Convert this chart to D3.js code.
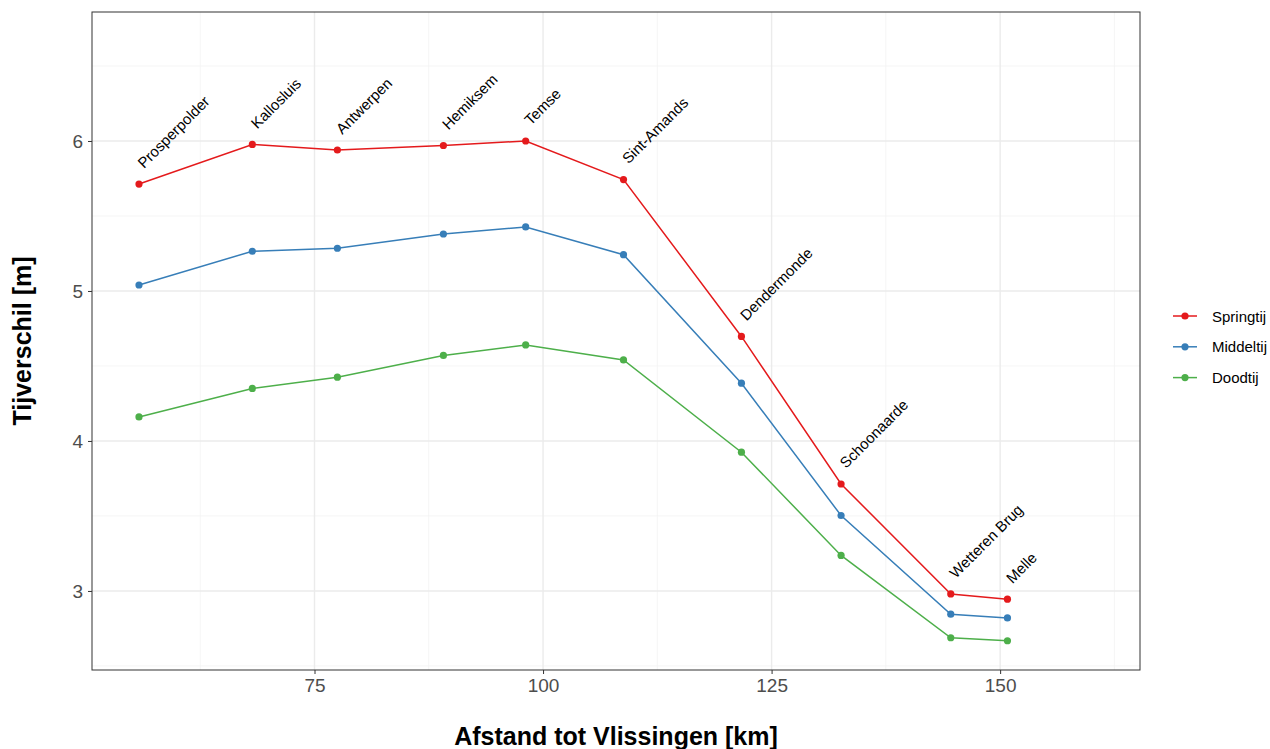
<!DOCTYPE html>
<html>
<head>
<meta charset="utf-8">
<script src="https://cdn.jsdelivr.net/npm/d3@7"></script>
<style>
  body { margin: 0; background: #fff; }
  svg { font-family: "Liberation Sans", Arial, sans-serif; }
</style>
</head>
<body>
<svg id="chart" width="1270" height="749"></svg>
<script>
// data
const stations = ["Prosperpolder", "Kallosluis", "Antwerpen", "Hemiksem", "Temse",
  "Sint-Amands", "Dendermonde", "Schoonaarde", "Wetteren Brug", "Melle"];
const distance = [55.8, 68.2, 77.5, 89.1, 98.1, 108.8, 121.7, 132.6, 144.6, 150.8];
const springtij = [5.713, 5.977, 5.94, 5.97, 6.0, 5.743, 4.697, 3.713, 2.98, 2.945];
const middeltij = [5.04, 5.265, 5.285, 5.38, 5.427, 5.242, 4.385, 3.503, 2.845, 2.82];
const doodtij = [4.16, 4.35, 4.425, 4.57, 4.64, 4.54, 3.925, 3.237, 2.688, 2.668];
const seriesNames = ["Springtij", "Middeltij", "Doodtij"];
const seriesColors = ["#e41a1c", "#377eb8", "#4daf4a"];
const xTicks = [75, 100, 125, 150];
const yTicks = [3, 4, 5, 6];

const series = [springtij, middeltij, doodtij].map((vals, i) => ({
  name: seriesNames[i],
  color: seriesColors[i],
  values: vals.map((v, j) => ({ x: distance[j], y: v }))
}));

const svg = d3.select("#chart");
const panelLeft = 92, panelRight = 1140, panelTop = 12, panelBottom = 670;

const x = d3.scaleLinear().domain([50.66, 165.3]).range([panelLeft, panelRight]);
const y = d3.scaleLinear().domain([2.473, 6.86]).range([panelBottom, panelTop]);

// gridlines
const grid = svg.append("g");
const xMinor = d3.range(62.5, 165, 25);
const yMinor = d3.range(2.5, 6.9, 1);
grid.selectAll(".xm").data(xMinor).join("line")
  .attr("x1", d => x(d)).attr("x2", d => x(d)).attr("y1", panelTop).attr("y2", panelBottom)
  .attr("stroke", "#f2f2f2").attr("stroke-width", 0.8);
grid.selectAll(".ym").data(yMinor).join("line")
  .attr("y1", d => y(d)).attr("y2", d => y(d)).attr("x1", panelLeft).attr("x2", panelRight)
  .attr("stroke", "#f2f2f2").attr("stroke-width", 0.8);
grid.selectAll(".xM").data(xTicks).join("line")
  .attr("x1", d => x(d)).attr("x2", d => x(d)).attr("y1", panelTop).attr("y2", panelBottom)
  .attr("stroke", "#ebebeb").attr("stroke-width", 1.4);
grid.selectAll(".yM").data(yTicks).join("line")
  .attr("y1", d => y(d)).attr("y2", d => y(d)).attr("x1", panelLeft).attr("x2", panelRight)
  .attr("stroke", "#ebebeb").attr("stroke-width", 1.4);

// lines and points
const line = d3.line().x(d => x(d.x)).y(d => y(d.y));
series.forEach(s => {
  svg.append("path").datum(s.values)
    .attr("d", line).attr("fill", "none")
    .attr("stroke", s.color).attr("stroke-width", 1.5);
  svg.append("g").selectAll("circle").data(s.values).join("circle")
    .attr("cx", d => x(d.x)).attr("cy", d => y(d.y)).attr("r", 3.6)
    .attr("fill", s.color);
});

// station labels
svg.append("g").selectAll("text").data(stations).join("text")
  .attr("transform", (d, i) => `translate(${x(distance[i]) + 5},${y(springtij[i]) - 15}) rotate(-45)`)
  .attr("font-size", 15).attr("fill", "#000")
  .text(d => d);

// panel border
svg.append("rect").attr("x", panelLeft).attr("y", panelTop)
  .attr("width", panelRight - panelLeft).attr("height", panelBottom - panelTop)
  .attr("fill", "none").attr("stroke", "#333").attr("stroke-width", 1);

// axes
const xAxis = svg.append("g").attr("transform", `translate(0,${panelBottom})`)
  .call(d3.axisBottom(x).tickValues(xTicks).tickFormat(d3.format("d")).tickSize(4).tickPadding(5));
const yAxis = svg.append("g").attr("transform", `translate(${panelLeft},0)`)
  .call(d3.axisLeft(y).tickValues(yTicks).tickFormat(d3.format("d")).tickSize(4).tickPadding(5));
[xAxis, yAxis].forEach(a => {
  a.select(".domain").remove();
  a.selectAll("line").attr("stroke", "#333");
  a.selectAll("text").attr("fill", "#4d4d4d").attr("font-size", 19)
    .attr("font-family", "Liberation Sans, Arial, sans-serif");
});

// axis titles
svg.append("text").attr("x", (panelLeft + panelRight) / 2).attr("y", 745)
  .attr("text-anchor", "middle").attr("font-size", 25).attr("font-weight", "bold")
  .text("Afstand tot Vlissingen [km]");
svg.append("text").attr("transform", `translate(31,${(panelTop + panelBottom) / 2}) rotate(-90)`)
  .attr("text-anchor", "middle").attr("font-size", 25).attr("font-weight", "bold")
  .text("Tijverschil [m]");

// legend
const legend = svg.append("g").attr("transform", "translate(1173,316)");
series.forEach((s, i) => {
  const g = legend.append("g").attr("transform", `translate(0,${i * 30.8})`);
  g.append("line").attr("x1", 0).attr("x2", 24).attr("stroke", s.color).attr("stroke-width", 1.5);
  g.append("circle").attr("cx", 12).attr("r", 3.6).attr("fill", s.color);
  g.append("text").attr("x", 39).attr("y", 5.5).attr("font-size", 15).text(s.name);
});
</script>
</body>
</html>
